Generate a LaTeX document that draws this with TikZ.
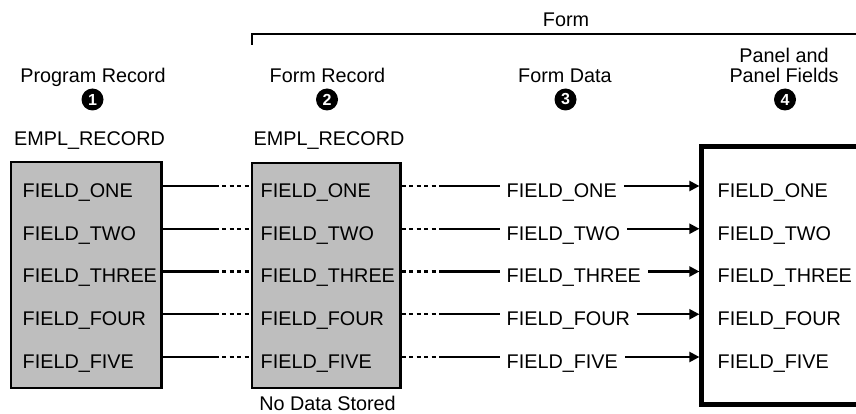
\documentclass[tikz,border=0pt]{standalone}
\usepackage{fontspec}
\setmainfont{Liberation Sans}
\usetikzlibrary{arrows.meta,calc}
\definecolor{recgray}{HTML}{BEBEBE}
\begin{document}
\begin{tikzpicture}[x=1pt,y=-1pt,
  lbl/.style={font=\fontsize{19.8}{20}\selectfont, inner sep=0pt},
  head/.style={lbl, align=center, anchor=base},
  fld/.style={lbl, anchor=base west},
  recbox/.style={draw=black, line width=2.4pt, fill=recgray, inner sep=0pt},
  panelbox/.style={draw=black, line width=4.6pt, inner sep=0pt},
  badge/.style={circle, fill=black, minimum size=22pt, inner sep=0pt,
    text=white, font=\fontsize{16}{16}\selectfont\bfseries},
  link/.style={line width=2.2pt},
  dots/.style={line width=2.2pt, dash pattern=on 4pt off 3.5pt},
  feed/.style={line width=2.2pt, -{Triangle[length=10pt,width=10pt]}},
]
\clip (0,0) rectangle (856,414);

% bracket spanning the form
\node[lbl, anchor=base] (ft) at (566,26.7) {Form};
\coordinate (fb) at (252,45);
\coordinate (fe) at (870,34);
\draw[line width=1.6pt] (fb) |- (fe);

% column headings
\node[head] (h1) at (93,83) {Program Record};
\node[badge] (n1) at (92.5,99.5) {1};
\node[lbl, anchor=base] (e1) at (89.5,145.7) {EMPL\_RECORD};

\node[head] (h2) at (327.5,83) {Form Record};
\node[badge] (n2) at (327,99.5) {2};
\node[lbl, anchor=base] (e2) at (329,145.7) {EMPL\_RECORD};

\node[head] (h3) at (565,83) {Form Data};
\node[badge] (n3) at (565.5,99.5) {3};

\node[head] (h4) at (784,83) {Panel and\\Panel Fields};
\node[badge] (n4) at (785,99.5) {4};

% record boxes and panel
\node[recbox, minimum width=150.5pt, minimum height=226pt] (b1) at (86.25,275) {};
\node[recbox, minimum width=148.3pt, minimum height=225pt] (b2) at (326.15,275.5) {};
\node[panelbox, minimum width=198.3pt, minimum height=258.2pt] (b4) at (800.85,275.6) {};
\node[lbl, anchor=base] (nd) at (327.5,410) {No Data Stored};

% field rows
\foreach \i/\name in {1/ONE,2/TWO,3/THREE,4/FOUR,5/FIVE}{
  \pgfmathsetmacro{\ry}{186+42.75*(\i-1)}
  \coordinate (r\i) at (0,\ry);
  \node[fld] (p\i) at (22.5,\ry+11.3) {FIELD\_\name};
  \node[fld] (f\i) at (260.5,\ry+11.3) {FIELD\_\name};
  \node[fld, inner xsep=7pt] (d\i) at (499.5,\ry+11.3) {FIELD\_\name};
  \node[fld] (q\i) at (717.5,\ry+11.3) {FIELD\_\name};
  % program record to form record
  \draw[link] (b1.east |- r\i) -- ++(52,0) coordinate (u\i);
  \draw[dots] (u\i) -- (b2.west |- r\i);
  % form record to form data
  \draw[dots] (b2.east |- r\i) -- ++(40,0) coordinate (v\i);
  \draw[link] (v\i) -- (d\i.west |- r\i);
  % form data to panel fields
  \draw[feed] (d\i.east |- r\i) -- (b4.west |- r\i);
}
\end{tikzpicture}
\end{document}
